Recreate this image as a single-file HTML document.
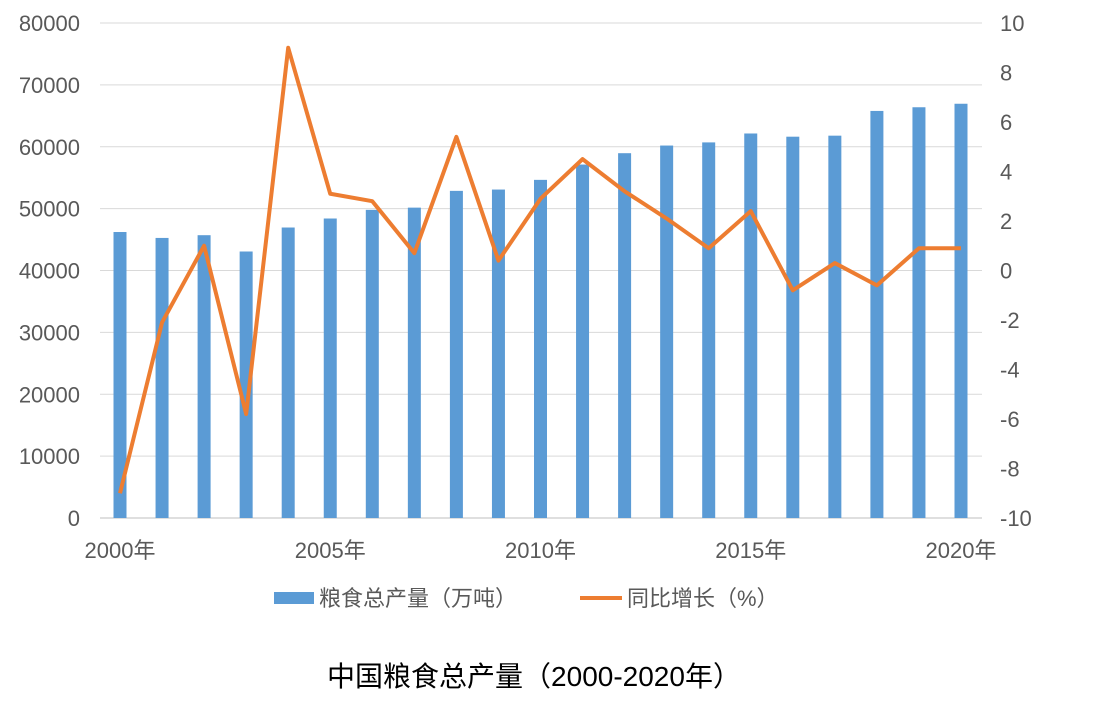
<!DOCTYPE html>
<html><head><meta charset="utf-8"><style>
body{margin:0;background:#fff;}
svg{display:block;font-family:"Liberation Sans","Noto Sans CJK SC",sans-serif;}
</style></head><body>
<svg id="c" width="1109" height="711"></svg>
<script>
const years=[2000,2001,2002,2003,2004,2005,2006,2007,2008,2009,2010,2011,2012,2013,2014,2015,2016,2017,2018,2019,2020];
const production=[46220,45264,45706,43070,46947,48402,49804,50160,52871,53082,54648,57121,58958,60194,60703,62144,61625,61791,65789,66384,66949];
const growth=[-9.0,-2.1,1.0,-5.8,9.0,3.1,2.8,0.7,5.4,0.4,2.9,4.5,3.2,2.1,0.9,2.4,-0.8,0.3,-0.6,0.9,0.9];
const leftTicks=[0,10000,20000,30000,40000,50000,60000,70000,80000];
const rightTicks=[-10,-8,-6,-4,-2,0,2,4,6,8,10];
const xLabelYears=[2000,2005,2010,2015,2020];

const NS='http://www.w3.org/2000/svg';
const svg=document.getElementById('c');
const L=100,R=982,T=23,B=518;
const x0=120,dx=(961-120)/20;
const xs=i=>x0+i*dx;
const yL=v=>B-(v/80000)*(B-T);
const yR=v=>B-((v+10)/20)*(B-T);
function el(tag,attrs,name,txt){const e=document.createElementNS(NS,tag);for(const k in attrs)e.setAttribute(k,attrs[k]);


if(txt!==undefined)e.textContent=txt;svg.appendChild(e);return e;}
leftTicks.forEach(v=>{
 el('line',{x1:L,x2:R,y1:yL(v),y2:yL(v),stroke:v===0?'#bfbfbf':'#d9d9d9','stroke-width':1},'gridline');
 el('text',{x:80,y:yL(v)+8,'text-anchor':'end','font-size':22,fill:'#595959'},'left-tick-label',String(v));
});
rightTicks.forEach(v=>{
 el('text',{x:1000,y:yR(v)+8,'text-anchor':'start','font-size':22,fill:'#595959'},'right-tick-label',String(v));
});
production.forEach((v,i)=>{
 el('rect',{x:xs(i)-6.5,y:yL(v),width:13,height:B-yL(v),fill:'#5b9bd5'},'bar-'+years[i]);
});
el('polyline',{points:growth.map((v,i)=>xs(i)+','+yR(v)).join(' '),fill:'none',stroke:'#ed7d31','stroke-width':4,'stroke-linejoin':'round'},'growth-line');
xLabelYears.forEach(y=>{
 const i=years.indexOf(y);
 el('text',{x:xs(i),y:558,'text-anchor':'middle','font-size':22,fill:'#595959'},'x-tick-label',y+'年');
});
el('rect',{x:274,y:592,width:40,height:12,fill:'#5b9bd5'},'legend-swatch-production');
el('text',{x:319,y:606,'font-size':22,fill:'#595959'},'legend-label-production','粮食总产量（万吨）');
el('line',{x1:580,x2:622,y1:598,y2:598,stroke:'#ed7d31','stroke-width':4},'legend-swatch-growth');
el('text',{x:627,y:606,'font-size':22,fill:'#595959'},'legend-label-growth','同比增长（%）');
el('text',{x:534,y:686,'text-anchor':'middle','font-size':28,fill:'#000'},'chart-title','中国粮食总产量（2000-2020年）');
</script>
</body></html>
